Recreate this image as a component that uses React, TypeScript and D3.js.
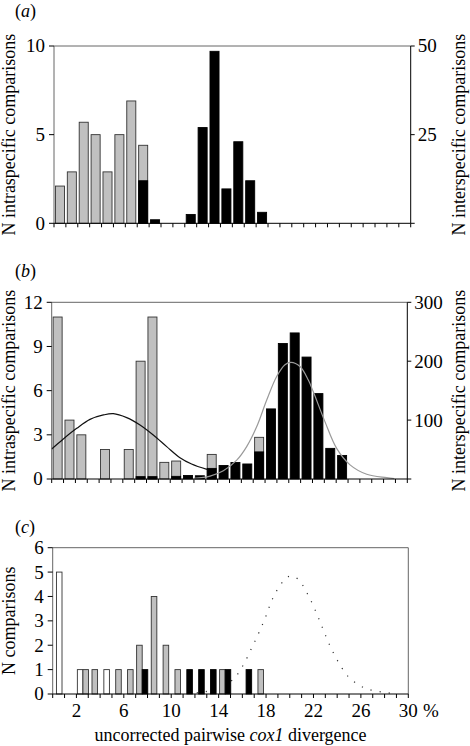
import React from "react";
import * as d3 from "d3";

// percent divergence classes (0-1%, 1-2%, ... 29-30%)
const BINS = d3.range(0, 30);

// Panel (a)
const INTRA_A = [2.1, 2.9, 5.7, 5.0, 2.9, 5.0, 6.9, 4.4, 0, 0, 0, 0, 0, 0, 0, 0, 0, 0, 0, 0, 0, 0, 0, 0, 0, 0, 0, 0, 0, 0];
const INTER_A = [0, 0, 0, 0, 0, 0, 0, 12, 1, 0, 0, 2.5, 27, 48.5, 9.7, 23, 12, 3.1, 0, 0, 0, 0, 0, 0, 0, 0, 0, 0, 0, 0];
const LEFT_TICKS_A = [0, 5, 10];
const RIGHT_TICKS_A = [25, 50];

// Panel (b)
const INTRA_B = [11, 4, 3, 0, 2, 0, 2, 8, 11, 1.13, 1.22, 0, 0, 1.67, 0, 0, 0, 2.83, 0, 0, 0, 0, 0, 0, 0, 0, 0, 0, 0, 0];
const INTER_B = [0, 0, 0, 0, 0, 0, 0, 4, 4, 0, 4.5, 6, 5.5, 18, 23, 28, 25.5, 46, 119, 230, 248, 207, 145, 52, 40, 0, 0, 0, 0, 0];
const LEFT_TICKS_B = [0, 3, 6, 9, 12];
const RIGHT_TICKS_B = [100, 200, 300];
const INTRA_CURVE_B_X = [0, 0.98, 2.11, 3.23, 4.36, 5.2, 6.33, 7.45, 8.57, 9.7, 10.82, 11.8, 13.1];
const INTRA_CURVE_B_Y = [2.04, 2.72, 3.44, 4.05, 4.35, 4.44, 4.17, 3.67, 2.99, 2.2, 1.45, 1.02, 0.65];
const INTER_CURVE_B_X = [12.0, 13.36, 14.48, 15.61, 16.45, 17.3, 18.14, 18.98, 19.68, 20.19, 20.95, 21.65, 22.07, 23.06, 24.04, 25.17, 26.58, 28.26, 28.9];
const INTER_CURVE_B_Y = [1.25, 5, 14, 32, 55, 89, 134, 174, 194, 198, 191, 168, 148, 97, 52, 24, 8, 2.2, 0.5];

// Panel (c)
const WHITE_C = [5, 0, 1, 0, 1, 0, 0, 0, 0, 0, 0, 0, 0, 0, 0, 0, 0, 0, 0, 0, 0, 0, 0, 0, 0, 0, 0, 0, 0, 0];
const GRAY_C = [0, 0, 1, 1, 0, 1, 1, 2, 4, 2, 1, 0, 0, 0, 1, 0, 0, 1, 0, 0, 0, 0, 0, 0, 0, 0, 0, 0, 0, 0];
const BLACK_C = [0, 0, 0, 0, 0, 0, 0, 1, 0, 0, 0, 1, 1, 1, 1, 0, 1, 0, 0, 0, 0, 0, 0, 0, 0, 0, 0, 0, 0, 0];
const LEFT_TICKS_C = [0, 1, 2, 3, 4, 5, 6];
const X_LABELS_C = [2, 6, 10, 14, 18, 22, 26, 30];
const CURVE_C_X = [12.15, 12.93, 15.1, 16.03, 16.73, 17.4, 18.0, 18.56, 19.37, 19.96, 20.67, 21.51, 22.19, 22.78, 23.37, 24.1, 25.0, 26.26, 27.78, 29.07];
const CURVE_C_Y = [0.05, 0.1, 0.55, 1.15, 1.83, 2.52, 3.21, 3.92, 4.58, 4.83, 4.72, 4.09, 3.39, 2.69, 2.0, 1.31, 0.68, 0.26, 0.08, 0.01];

const FONT = "'Liberation Serif', 'Times New Roman', Times, serif";
const FS = 18;
const TFS = 19;
const GRAY = "#c0c0c0";
const FRAME = "#666";

type Geo = { x0: number; x1: number; yTop: number; yBot: number };
const GA: Geo = { x0: 54, x1: 410.7, yTop: 46, yBot: 223.3 };
const GB: Geo = { x0: 51.7, x1: 407.3, yTop: 302.3, yBot: 479 };
const GC: Geo = { x0: 52.7, x1: 408.3, yTop: 547.7, yBot: 694 };

function Frame({ g, x, rightAxis }: { g: Geo; x: d3.ScaleLinear<number, number>; rightAxis: boolean }) {
  const ticks = d3.range(0, 31);
  return (
    <g>
      <line x1={g.x0} x2={g.x1} y1={g.yTop} y2={g.yTop} stroke={FRAME} strokeWidth={1} />
      <line x1={g.x0} x2={g.x0} y1={g.yTop} y2={g.yBot} stroke={FRAME} strokeWidth={1} />
      <line x1={g.x1} x2={g.x1} y1={g.yTop} y2={g.yBot} stroke={rightAxis ? "#000" : FRAME} strokeWidth={1} />
      <line x1={g.x0} x2={g.x1} y1={g.yBot} y2={g.yBot} stroke="#000" strokeWidth={1} />
      {ticks.map((t) => (
        <line key={t} x1={x(t)} x2={x(t)} y1={g.yBot} y2={g.yBot + 4} stroke="#000" strokeWidth={1} />
      ))}
    </g>
  );
}

function LeftAxis({ g, y, ticks }: { g: Geo; y: d3.ScaleLinear<number, number>; ticks: number[] }) {
  return (
    <g>
      {ticks.map((t) => (
        <g key={t}>
          <line x1={g.x0 - 5} x2={g.x0} y1={y(t)} y2={y(t)} stroke="#000" strokeWidth={1} />
          <text x={g.x0 - 9} y={y(t)} dy="0.34em" textAnchor="end" fontFamily={FONT} fontSize={TFS}>
            {t}
          </text>
        </g>
      ))}
    </g>
  );
}

function RightAxis({ g, y, ticks }: { g: Geo; y: d3.ScaleLinear<number, number>; ticks: number[] }) {
  return (
    <g>
      <line x1={g.x1} x2={g.x1 + 4} y1={y(0)} y2={y(0)} stroke="#000" strokeWidth={1} />
      {ticks.map((t) => (
        <g key={t}>
          <line x1={g.x1} x2={g.x1 + 4} y1={y(t)} y2={y(t)} stroke="#000" strokeWidth={1} />
          <text x={g.x1 + 7} y={y(t)} dy="0.34em" textAnchor="start" fontFamily={FONT} fontSize={TFS}>
            {t}
          </text>
        </g>
      ))}
    </g>
  );
}

function VTitle({ x, cy, text }: { x: number; cy: number; text: string }) {
  return (
    <text transform={`translate(${x},${cy}) rotate(-90)`} textAnchor="middle" fontFamily={FONT} fontSize={FS}>
      {text}
    </text>
  );
}

function PanelLabel({ y, letter }: { y: number; letter: string }) {
  return (
    <text x={15} y={y} fontFamily={FONT} fontSize={FS}>
      (<tspan fontStyle="italic">{letter}</tspan>)
    </text>
  );
}

function DualPanel({
  g, intra, inter, leftMax, rightMax, leftTicks, rightTicks, children,
}: {
  g: Geo; intra: number[]; inter: number[]; leftMax: number; rightMax: number;
  leftTicks: number[]; rightTicks: number[];
  children?: (x: d3.ScaleLinear<number, number>, yL: d3.ScaleLinear<number, number>, yR: d3.ScaleLinear<number, number>) => React.ReactNode;
}) {
  const x = d3.scaleLinear().domain([0, 30]).range([g.x0, g.x1]);
  const yL = d3.scaleLinear().domain([0, leftMax]).range([g.yBot, g.yTop]);
  const yR = d3.scaleLinear().domain([0, rightMax]).range([g.yBot, g.yTop]);
  const bw = 0.76;
  const cy = (g.yTop + g.yBot) / 2;
  return (
    <g>
      {BINS.map((i) =>
        intra[i] > 0 ? (
          <rect key={"g" + i} x={x(i + 0.5 - bw / 2)} width={x(bw) - x(0)} y={yL(intra[i])}
            height={yL(0) - yL(intra[i])} fill={GRAY} stroke="#333" strokeWidth={0.9} />
        ) : null
      )}
      {BINS.map((i) =>
        inter[i] > 0 ? (
          <rect key={"b" + i} x={x(i + 0.5 - bw / 2)} width={x(bw) - x(0)} y={yR(inter[i])}
            height={yR(0) - yR(inter[i])} fill="#000" stroke="#000" strokeWidth={0.9} />
        ) : null
      )}
      {children ? children(x, yL, yR) : null}
      <Frame g={g} x={x} rightAxis={true} />
      <LeftAxis g={g} y={yL} ticks={leftTicks} />
      <RightAxis g={g} y={yR} ticks={rightTicks} />
      <VTitle x={15} cy={cy} text="N intraspecific comparisons" />
      <VTitle x={465} cy={cy} text="N interspecific comparisons" />
    </g>
  );
}

function PanelC() {
  const g = GC;
  const x = d3.scaleLinear().domain([0, 30]).range([g.x0, g.x1]);
  const y = d3.scaleLinear().domain([0, 6]).range([g.yBot, g.yTop]);
  const bw = 0.47;
  const bars: { key: string; i: number; v: number; fill: string; pos: number }[] = [];
  BINS.forEach((i) => {
    const series = [
      { v: WHITE_C[i], fill: "#fff" },
      { v: GRAY_C[i], fill: GRAY },
      { v: BLACK_C[i], fill: "#000" },
    ].filter((s) => s.v > 0);
    const n = series.length;
    series.forEach((s, k) => {
      bars.push({ key: `${i}-${k}`, i, v: s.v, fill: s.fill, pos: i + 0.55 + (k - (n - 1) / 2) * bw });
    });
  });
  const pts: [number, number][] = CURVE_C_X.map((cx, k) => [cx, CURVE_C_Y[k]]);
  const line = d3.line<[number, number]>().x((d) => x(d[0])).y((d) => y(d[1])).curve(d3.curveCatmullRom.alpha(0.5));
  return (
    <g>
      <path d={line(pts) || ""} fill="none" stroke="#333" strokeWidth={1.2} strokeDasharray="1.2 8" />
      {bars.map((b) => (
        <rect key={b.key} x={x(b.pos - bw / 2)} width={x(bw) - x(0)} y={y(b.v)} height={y(0) - y(b.v)}
          fill={b.fill} stroke={b.fill === "#000" ? "#000" : "#333"} strokeWidth={0.9} />
      ))}
      <Frame g={g} x={x} rightAxis={false} />
      <LeftAxis g={g} y={y} ticks={LEFT_TICKS_C} />
      {X_LABELS_C.map((t) => (
        <text key={t} x={x(t)} y={716.5} textAnchor="middle" fontFamily={FONT} fontSize={TFS}>
          {t}
        </text>
      ))}
      <text x={423} y={716.5} fontFamily={FONT} fontSize={TFS}>%</text>
      <VTitle x={15} cy={(g.yTop + g.yBot) / 2} text="N comparisons" />
      <text x={(g.x0 + g.x1) / 2} y={741} textAnchor="middle" fontFamily={FONT} fontSize={FS}>
        uncorrected pairwise <tspan fontStyle="italic">cox1</tspan> divergence
      </text>
    </g>
  );
}

export default function App() {
  const intraCurve: [number, number][] = INTRA_CURVE_B_X.map((v, k) => [v, INTRA_CURVE_B_Y[k]]);
  const interCurve: [number, number][] = INTER_CURVE_B_X.map((v, k) => [v, INTER_CURVE_B_Y[k]]);
  return (
    <svg width={470} height={746} style={{ position: "absolute", left: 0, top: 0, background: "#fff" }}>
      <rect x={0} y={0} width={470} height={746} fill="#fff" />
      <PanelLabel y={17} letter="a" />
      <DualPanel g={GA} intra={INTRA_A} inter={INTER_A} leftMax={10} rightMax={50}
        leftTicks={LEFT_TICKS_A} rightTicks={RIGHT_TICKS_A} />
      <PanelLabel y={276.5} letter="b" />
      <DualPanel g={GB} intra={INTRA_B} inter={INTER_B} leftMax={12} rightMax={300}
        leftTicks={LEFT_TICKS_B} rightTicks={RIGHT_TICKS_B}>
        {(x, yL, yR) => {
          const lineL = d3.line<[number, number]>().x((d) => x(d[0])).y((d) => yL(d[1])).curve(d3.curveCatmullRom.alpha(0.5));
          const lineR = d3.line<[number, number]>().x((d) => x(d[0])).y((d) => yR(d[1])).curve(d3.curveCatmullRom.alpha(0.5));
          return (
            <g>
              <path d={lineL(intraCurve) || ""} fill="none" stroke="#111" strokeWidth={1.2} />
              <path d={lineR(interCurve) || ""} fill="none" stroke="#9a9a9a" strokeWidth={1.2} />
            </g>
          );
        }}
      </DualPanel>
      <PanelLabel y={533} letter="c" />
      <PanelC />
    </svg>
  );
}
